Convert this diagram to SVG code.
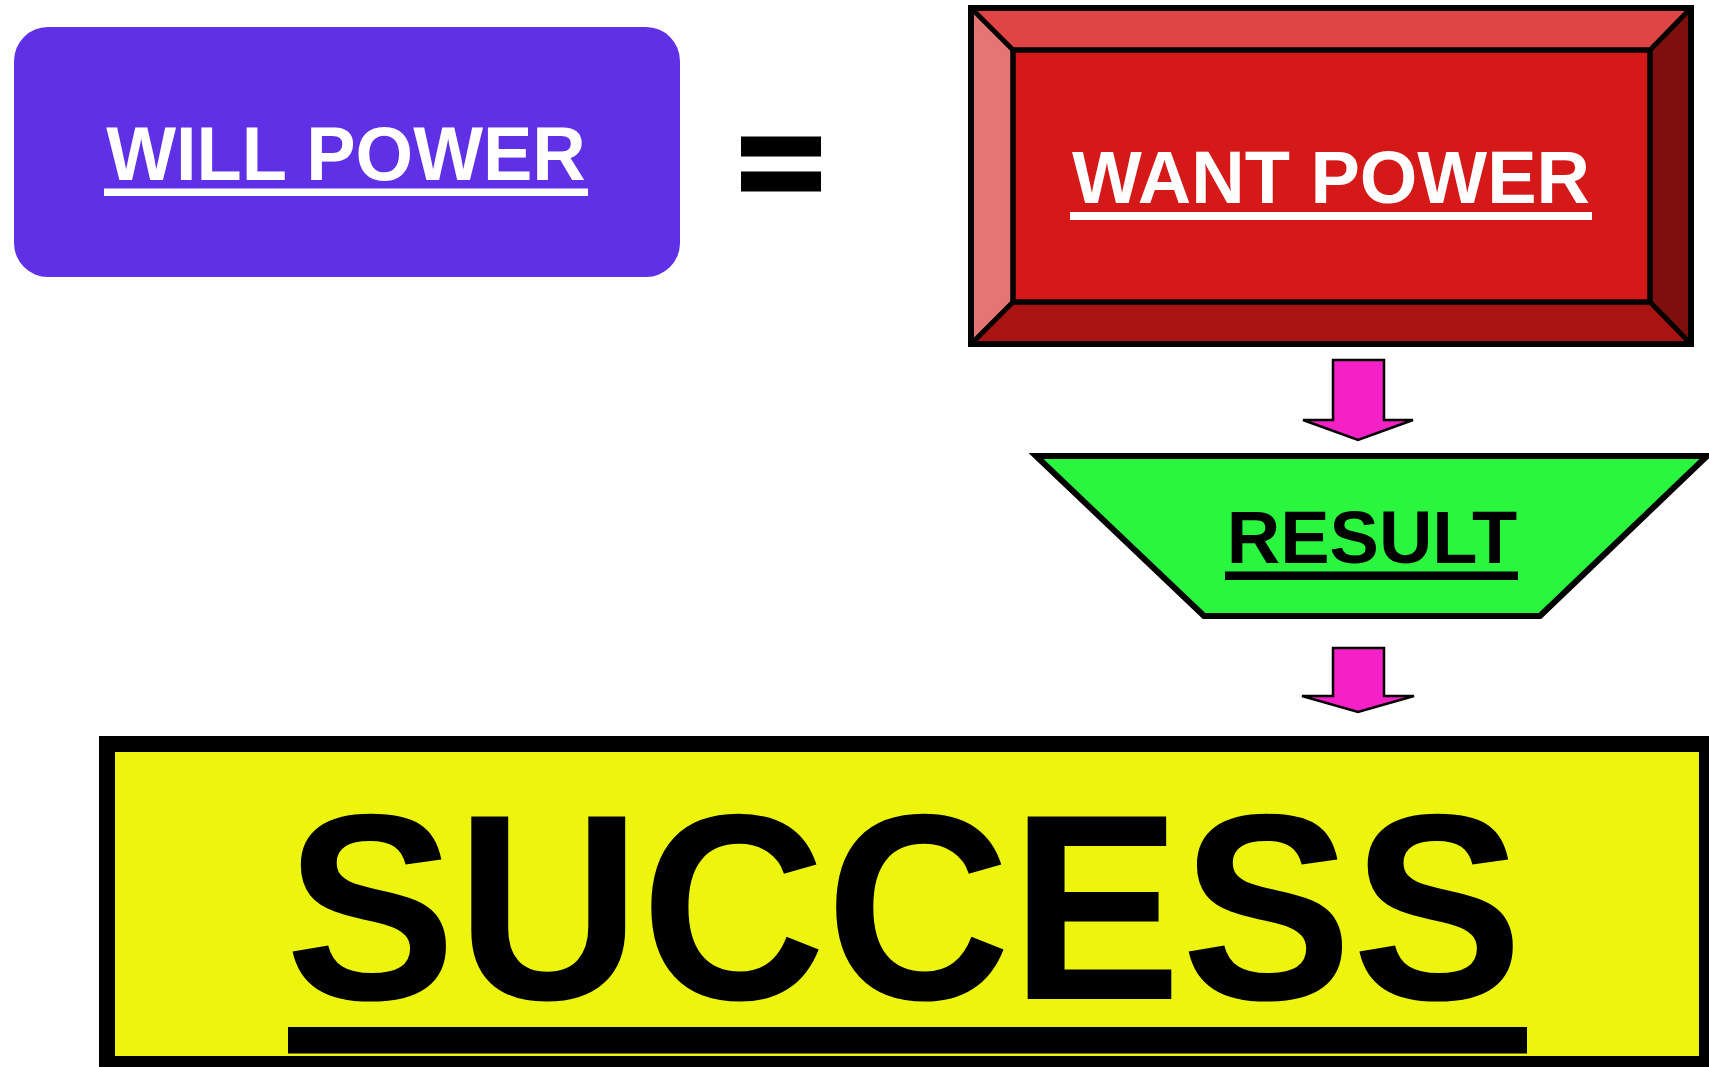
<svg xmlns="http://www.w3.org/2000/svg" width="1709" height="1067" viewBox="0 0 1709 1067">
  <style>
    .lbl { font-family: "Liberation Sans", Arial, sans-serif; font-weight: bold; text-anchor: middle; }
    .w { fill: #FFFFFF; }
    .k { fill: #000000; }
    .edge { fill: none; stroke: #000; stroke-linejoin: miter; }
    .arrow { fill: #F321C6; stroke: #000; stroke-width: 2.5; stroke-linejoin: miter; }
  </style>
  <rect x="0" y="0" width="1709" height="1067" fill="#FFFFFF"/>

  <g id="will-power">
    <rect x="14" y="27" width="666" height="250" rx="34" ry="34" fill="#5F30E6"/>
    <text class="lbl w" x="346" y="180" font-size="74" transform="translate(346,180) scale(1,1.03) translate(-346,-180)">WILL POWER</text>
    <rect class="w" x="104" y="188.5" width="484" height="7.5"/>
  </g>

  <g id="equals">
    <rect x="741" y="136.5" width="80" height="20" fill="#000"/>
    <rect x="741" y="171.5" width="80" height="20" fill="#000"/>
  </g>

  <g id="want-power">
    <polygon points="971,8 1691,8 1650,50 1013,50" fill="#DF4545"/>
    <polygon points="971,8 1013,50 1013,302 971,344" fill="#E57575"/>
    <polygon points="1691,8 1691,344 1650,302 1650,50" fill="#7F0E0E"/>
    <polygon points="971,344 1013,302 1650,302 1691,344" fill="#AB1212"/>
    <rect x="1013" y="50" width="637" height="252" fill="#D51818"/>
    <line class="edge" x1="971" y1="8" x2="1013" y2="50" stroke-width="5"/>
    <line class="edge" x1="1691" y1="8" x2="1650" y2="50" stroke-width="5"/>
    <line class="edge" x1="971" y1="344" x2="1013" y2="302" stroke-width="5"/>
    <line class="edge" x1="1691" y1="344" x2="1650" y2="302" stroke-width="5"/>
    <rect class="edge" x="1013" y="50" width="637" height="252" stroke-width="5.5"/>
    <rect class="edge" x="971" y="8" width="720" height="336" stroke-width="6"/>
    <text class="lbl w" x="1331" y="203" font-size="74">WANT POWER</text>
    <rect class="w" x="1070" y="212" width="522" height="8"/>
  </g>

  <g id="result">
    <path d="M1036,456 L1707,456 L1540,616 L1204,616 Z" fill="#2AF53F" stroke="#000" stroke-width="6" stroke-linejoin="miter"/>
    <text class="lbl k" x="1372" y="563" font-size="74">RESULT</text>
    <rect class="k" x="1225" y="571.5" width="293" height="8.5"/>
  </g>

  <g id="success">
    <rect x="99" y="736" width="1620" height="340" fill="#000"/>
    <rect x="115" y="752" width="1584" height="304" fill="#EDF50E"/>
    <text class="lbl k" x="904" y="999" font-size="256" transform="translate(904,999) scale(1,1.036) translate(-904,-999)">SUCCESS</text>
    <rect class="k" x="288" y="1027" width="1239" height="26.5"/>
  </g>

  <g id="connectors">
    <path class="arrow" d="M1333,360 L1384,360 L1384,420 L1413,420 L1358,440 L1303,420 L1333,420 Z"/>
    <path class="arrow" d="M1333,648 L1384,648 L1384,696 L1414,696 L1358,712 L1302,696 L1333,696 Z"/>
  </g>
</svg>
